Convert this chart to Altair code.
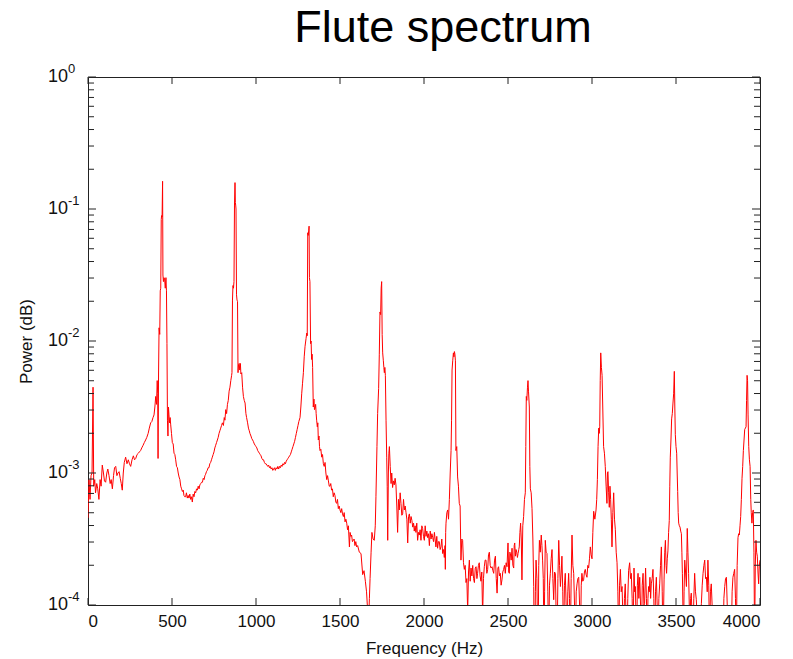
import altair as alt
import pandas as pd

# ---- values (frequency in Hz, log10 of power) ----
seg_0_800 = [(0,-3.34),(6,-3.05),(12,-3.20),(18,-3.02),(24,-3.00),(30,-2.35),(34,-3.10),(40,-3.05),(45,-3.15),(52,-3.08),(58,-3.12),(65,-3.20),(72,-3.05),(78,-3.10),(85,-2.94),(92,-3.00),(98,-3.06),(105,-3.07),(112,-3.00),(118,-2.97),(125,-3.02),(132,-3.08),(138,-3.05),(145,-3.12),(152,-3.02),(158,-2.96),(165,-2.95),(172,-3.02),(178,-3.00),(185,-2.99),(192,-3.04),(198,-3.08),(204,-3.13),(210,-3.00),(216,-2.92),(224,-2.88),(232,-2.93),(240,-2.90),(247,-2.93),(254,-2.95),(262,-2.90),(270,-2.87),(277,-2.90),(284,-2.89),(292,-2.86),(300,-2.85),(306,-2.84),(313,-2.83),(320,-2.81),(328,-2.79),(335,-2.77),(343,-2.75),(350,-2.73),(358,-2.70),(365,-2.66),(373,-2.62),(380,-2.61),(387,-2.58),(393,-2.56),(398,-2.50),(403,-2.42),(408,-2.48),(412,-2.30),(415,-2.40),(417,-2.89),(420,-2.25),(423,-1.90),(427,-1.95),(430,-1.62),(433,-1.60),(436,-1.08),(438,-1.05),(441,-1.06),(444,-0.79),(446,-1.50),(449,-1.55),(452,-1.52),(456,-1.53),(460,-1.60),(464,-1.52),(467,-1.62),(470,-2.02),(473,-2.60),(476,-2.72),(479,-2.50),(482,-2.56),(485,-2.62),(489,-2.58),(492,-2.63),(497,-2.70),(502,-2.77),(507,-2.78),(512,-2.85),(517,-2.86),(522,-2.90),(527,-2.95),(532,-2.96),(537,-3.00),(542,-3.03),(547,-3.05),(552,-3.10),(557,-3.12),(562,-3.14),(567,-3.13),(571,-3.17),(576,-3.18),(581,-3.18),(586,-3.15),(591,-3.19),(596,-3.17),(601,-3.19),(606,-3.16),(611,-3.20),(616,-3.18),(621,-3.22),(626,-3.16),(631,-3.18),(636,-3.14),(641,-3.15),(646,-3.12),(651,-3.13),(656,-3.10),(661,-3.12),(666,-3.09),(671,-3.08),(676,-3.07),(681,-3.07),(686,-3.04),(691,-3.05),(696,-3.02),(700,-3.01),(705,-2.99),(710,-2.98),(715,-2.96),(720,-2.96),(725,-2.93),(730,-2.92),(735,-2.90),(740,-2.88),(745,-2.86),(750,-2.84),(755,-2.81),(760,-2.79),(765,-2.77),(770,-2.75),(775,-2.73),(780,-2.70),(785,-2.68),(790,-2.66),(795,-2.64)]

seg_800_1600 = [(800,-2.62),(806,-2.64),(811,-2.58),(815,-2.60),(820,-2.52),(825,-2.55),(830,-2.48),(835,-2.45),(840,-2.38),(845,-2.35),(850,-2.30),(855,-2.26),(857,-2.24),(860,-1.69),(863,-1.58),(866,-1.60),(869,-1.55),(872,-0.97),(875,-0.80),(877,-0.95),(879,-0.97),(881,-1.00),(884,-1.65),(887,-1.69),(890,-1.70),(893,-2.24),(896,-2.18),(900,-2.17),(903,-2.22),(907,-2.17),(910,-2.25),(915,-2.24),(920,-2.35),(925,-2.42),(930,-2.45),(935,-2.47),(940,-2.55),(944,-2.58),(950,-2.62),(955,-2.66),(960,-2.68),(964,-2.70),(970,-2.72),(975,-2.74),(980,-2.75),(984,-2.76),(990,-2.78),(995,-2.79),(1000,-2.80),(1005,-2.81),(1010,-2.83),(1015,-2.84),(1020,-2.85),(1025,-2.86),(1030,-2.87),(1035,-2.89),(1040,-2.90),(1045,-2.90),(1050,-2.92),(1055,-2.93),(1060,-2.93),(1065,-2.94),(1070,-2.95),(1075,-2.94),(1080,-2.96),(1085,-2.95),(1090,-2.97),(1095,-2.96),(1100,-2.98),(1105,-2.97),(1110,-2.96),(1115,-2.98),(1120,-2.96),(1125,-2.97),(1130,-2.95),(1135,-2.97),(1140,-2.95),(1145,-2.96),(1150,-2.94),(1155,-2.95),(1160,-2.93),(1165,-2.94),(1170,-2.92),(1175,-2.93),(1180,-2.91),(1185,-2.90),(1190,-2.89),(1195,-2.88),(1200,-2.87),(1205,-2.86),(1210,-2.84),(1215,-2.82),(1220,-2.80),(1225,-2.78),(1230,-2.76),(1235,-2.73),(1240,-2.70),(1245,-2.67),(1250,-2.64),(1255,-2.61),(1262,-2.58),(1267,-2.50),(1272,-2.40),(1277,-2.32),(1282,-2.24),(1287,-2.12),(1292,-2.04),(1298,-1.98),(1302,-1.94),(1305,-1.96),(1308,-1.18),(1311,-1.20),(1314,-1.16),(1316,-1.13),(1318,-1.52),(1321,-1.55),(1325,-2.02),(1328,-2.00),(1331,-2.14),(1334,-2.10),(1337,-2.20),(1341,-2.50),(1345,-2.44),(1348,-2.52),(1351,-2.51),(1355,-2.48),(1358,-2.55),(1361,-2.60),(1365,-2.65),(1368,-2.62),(1371,-2.75),(1375,-2.72),(1378,-2.80),(1381,-2.83),(1386,-2.82),(1391,-2.88),(1396,-2.86),(1401,-2.93),(1406,-2.95),(1411,-2.92),(1416,-3.00),(1421,-3.05),(1426,-3.02),(1431,-3.06),(1436,-3.10),(1440,-3.10),(1445,-3.08),(1450,-3.13),(1455,-3.12),(1460,-3.18),(1465,-3.15),(1470,-3.17),(1475,-3.22),(1480,-3.23),(1485,-3.20),(1490,-3.27),(1495,-3.25),(1500,-3.28),(1505,-3.30),(1510,-3.27),(1515,-3.31),(1520,-3.33),(1525,-3.30),(1530,-3.37),(1535,-3.35),(1540,-3.38),(1545,-3.43),(1550,-3.40),(1556,-3.56),(1560,-3.45),(1565,-3.48),(1569,-3.47),(1574,-3.52),(1579,-3.51),(1584,-3.50),(1589,-3.55),(1594,-3.52),(1599,-3.56)]

seg_1600_2400 = [(1605,-3.55),(1615,-3.60),(1625,-3.61),(1635,-3.77),(1643,-3.74),(1651,-3.82),(1658,-3.90),(1665,-4.05),(1671,-4.10),(1675,-3.95),(1679,-3.80),(1685,-3.60),(1690,-3.45),(1697,-3.50),(1704,-3.51),(1710,-3.40),(1714,-3.18),(1720,-2.80),(1724,-2.55),(1730,-2.36),(1734,-2.10),(1738,-1.78),(1742,-1.80),(1745,-1.60),(1748,-1.55),(1751,-1.95),(1754,-2.09),(1758,-2.15),(1761,-2.20),(1764,-2.24),(1767,-2.20),(1770,-2.26),(1774,-2.60),(1778,-2.88),(1781,-3.10),(1784,-3.51),(1788,-3.00),(1791,-2.85),(1794,-2.80),(1799,-2.95),(1804,-3.08),(1808,-3.00),(1813,-3.11),(1818,-3.06),(1823,-3.09),(1828,-3.04),(1833,-3.09),(1838,-3.25),(1843,-3.45),(1848,-3.20),(1853,-3.28),(1858,-3.15),(1863,-3.23),(1868,-3.32),(1873,-3.31),(1878,-3.20),(1883,-3.28),(1888,-3.25),(1893,-3.30),(1898,-3.35),(1903,-3.53),(1908,-3.33),(1913,-3.31),(1918,-3.38),(1923,-3.33),(1928,-3.36),(1933,-3.41),(1938,-3.38),(1942,-3.44),(1947,-3.40),(1952,-3.45),(1957,-3.38),(1962,-3.51),(1967,-3.45),(1972,-3.47),(1977,-3.43),(1982,-3.51),(1987,-3.40),(1992,-3.42),(1997,-3.48),(2002,-3.51),(2007,-3.40),(2012,-3.48),(2017,-3.44),(2022,-3.49),(2027,-3.46),(2032,-3.55),(2037,-3.44),(2042,-3.50),(2047,-3.46),(2052,-3.49),(2057,-3.52),(2062,-3.45),(2066,-3.50),(2071,-3.56),(2076,-3.48),(2081,-3.57),(2086,-3.52),(2091,-3.52),(2096,-3.58),(2101,-3.56),(2106,-3.50),(2111,-3.61),(2116,-3.58),(2121,-3.64),(2125,-3.55),(2127,-3.73),(2129,-3.45),(2131,-3.38),(2136,-3.30),(2141,-3.28),(2146,-3.35),(2151,-3.20),(2156,-3.00),(2161,-2.83),(2164,-2.60),(2167,-2.22),(2171,-2.15),(2175,-2.09),(2178,-2.12),(2181,-2.08),(2184,-2.10),(2187,-2.15),(2190,-2.83),(2195,-2.80),(2200,-3.03),(2205,-3.10),(2210,-3.23),(2215,-3.25),(2220,-3.66),(2225,-3.50),(2230,-3.51),(2235,-3.68),(2240,-3.73),(2245,-3.70),(2250,-3.83),(2255,-3.80),(2260,-4.05),(2265,-3.75),(2270,-3.66),(2275,-3.82),(2280,-3.72),(2285,-3.78),(2290,-3.70),(2295,-3.80),(2300,-3.83),(2305,-3.72),(2310,-3.71),(2315,-3.80),(2319,-3.76),(2324,-3.70),(2329,-3.68),(2334,-3.78),(2339,-3.82),(2344,-3.75),(2349,-4.08),(2354,-3.80),(2359,-3.71),(2364,-3.66),(2369,-3.66),(2374,-3.76),(2379,-3.73),(2384,-3.62),(2389,-3.60),(2394,-3.70),(2399,-3.72)]

seg_2400_3215 = [(2405,-3.71),(2410,-3.74),(2415,-3.76),(2420,-3.66),(2425,-3.63),(2430,-3.80),(2435,-3.91),(2440,-3.72),(2444,-3.71),(2449,-3.78),(2454,-3.76),(2459,-3.85),(2464,-3.81),(2469,-3.75),(2474,-3.73),(2479,-3.70),(2484,-3.76),(2489,-3.68),(2494,-3.71),(2500,-3.53),(2504,-3.75),(2508,-3.76),(2511,-3.60),(2514,-3.61),(2519,-3.66),(2524,-3.57),(2529,-3.70),(2534,-3.72),(2537,-3.55),(2540,-3.53),(2544,-3.63),(2548,-3.58),(2552,-3.60),(2556,-3.64),(2560,-3.61),(2564,-3.58),(2567,-3.56),(2571,-3.45),(2575,-3.38),(2579,-3.50),(2583,-3.81),(2588,-3.40),(2593,-3.33),(2598,-3.20),(2603,-3.15),(2606,-2.80),(2609,-2.42),(2612,-2.45),(2616,-2.35),(2619,-2.30),(2622,-2.38),(2627,-2.50),(2630,-2.95),(2633,-3.12),(2638,-3.15),(2643,-3.27),(2648,-3.50),(2653,-3.86),(2656,-4.30),(2659,-4.40),(2663,-3.90),(2667,-3.66),(2672,-3.80),(2676,-4.20),(2679,-4.40),(2683,-3.70),(2687,-3.51),(2692,-3.60),(2698,-3.47),(2702,-3.55),(2706,-3.66),(2710,-3.80),(2714,-4.30),(2718,-3.90),(2722,-3.51),(2727,-3.60),(2732,-3.61),(2737,-3.90),(2742,-4.30),(2747,-3.85),(2752,-3.76),(2757,-3.65),(2762,-3.58),(2767,-3.80),(2772,-3.96),(2777,-3.75),(2782,-3.76),(2787,-4.10),(2792,-4.30),(2797,-3.80),(2802,-3.51),(2807,-3.70),(2812,-3.86),(2817,-3.75),(2821,-3.63),(2826,-3.90),(2831,-4.30),(2836,-3.85),(2841,-3.76),(2846,-4.00),(2851,-4.30),(2856,-3.90),(2861,-3.76),(2866,-3.95),(2871,-4.30),(2876,-3.80),(2881,-3.47),(2886,-3.70),(2891,-3.76),(2896,-4.00),(2901,-4.30),(2906,-3.90),(2911,-3.84),(2916,-3.80),(2921,-3.79),(2926,-4.00),(2931,-4.30),(2936,-3.85),(2940,-3.76),(2945,-3.82),(2950,-3.81),(2955,-3.75),(2960,-3.73),(2965,-3.77),(2970,-3.79),(2975,-3.70),(2980,-3.72),(2985,-3.65),(2990,-3.56),(2995,-3.62),(3000,-3.65),(3005,-3.45),(3010,-3.29),(3017,-3.35),(3024,-3.28),(3028,-3.20),(3032,-3.05),(3036,-2.80),(3040,-2.66),(3043,-2.70),(3046,-2.65),(3049,-2.30),(3052,-2.09),(3056,-2.20),(3060,-2.26),(3064,-2.50),(3069,-2.80),(3074,-2.85),(3079,-2.95),(3084,-3.10),(3089,-3.23),(3092,-3.00),(3095,-2.99),(3099,-3.15),(3103,-3.26),(3107,-3.10),(3111,-3.20),(3115,-3.35),(3119,-3.56),(3124,-3.30),(3129,-3.15),(3134,-3.35),(3139,-3.43),(3144,-3.60),(3149,-3.68),(3154,-3.90),(3159,-4.30),(3164,-3.85),(3169,-3.73),(3174,-3.90),(3179,-3.86),(3184,-4.10),(3188,-4.30),(3193,-3.95),(3198,-3.84),(3203,-4.10),(3208,-4.30),(3213,-3.95)]

seg_3215_4000 = [(3218,-3.74),(3224,-3.68),(3229,-3.80),(3234,-3.76),(3239,-3.95),(3244,-4.30),(3250,-3.72),(3254,-3.90),(3258,-3.86),(3262,-4.10),(3266,-4.30),(3270,-3.85),(3274,-3.76),(3279,-3.95),(3284,-3.79),(3289,-4.00),(3294,-4.30),(3299,-3.85),(3304,-3.76),(3309,-4.00),(3313,-3.99),(3319,-3.72),(3324,-3.95),(3329,-4.30),(3333,-3.95),(3337,-3.86),(3341,-3.90),(3345,-3.79),(3349,-3.95),(3353,-3.84),(3358,-3.80),(3363,-3.73),(3368,-3.95),(3373,-4.30),(3378,-3.90),(3383,-3.79),(3388,-4.00),(3393,-4.30),(3398,-3.95),(3403,-3.84),(3408,-3.70),(3413,-3.56),(3418,-3.90),(3423,-4.30),(3429,-3.81),(3433,-3.60),(3437,-3.51),(3441,-3.70),(3444,-3.76),(3448,-3.65),(3452,-3.59),(3456,-3.45),(3460,-3.36),(3463,-3.10),(3466,-2.88),(3470,-2.75),(3474,-2.59),(3478,-2.55),(3482,-2.47),(3486,-2.40),(3490,-2.23),(3493,-2.50),(3496,-2.71),(3500,-2.80),(3504,-2.85),(3507,-3.00),(3510,-3.14),(3513,-3.30),(3516,-3.38),(3520,-3.40),(3524,-3.41),(3528,-3.44),(3532,-3.46),(3535,-3.60),(3538,-3.76),(3541,-4.00),(3544,-4.30),(3548,-3.90),(3552,-3.66),(3557,-3.75),(3562,-3.86),(3565,-3.60),(3567,-3.42),(3571,-3.60),(3575,-3.76),(3579,-4.00),(3583,-4.30),(3587,-3.95),(3591,-3.91),(3596,-4.10),(3601,-4.30),(3606,-3.95),(3611,-3.76),(3616,-3.90),(3621,-3.96),(3626,-4.10),(3631,-4.30),(3636,-4.30),(3641,-4.30),(3646,-4.10),(3651,-3.99),(3656,-3.85),(3661,-3.76),(3666,-3.70),(3671,-3.66),(3676,-3.80),(3681,-3.79),(3686,-3.90),(3690,-3.66),(3695,-3.85),(3700,-4.30),(3705,-3.90),(3710,-3.84),(3715,-4.00),(3720,-4.30),(3725,-4.40),(3730,-4.50),(3740,-4.60),(3750,-4.50),(3760,-4.40),(3770,-4.35),(3780,-4.30),(3785,-3.95),(3790,-3.86),(3795,-3.80),(3800,-3.79),(3805,-4.00),(3810,-4.30),(3815,-4.30),(3820,-4.20),(3825,-4.10),(3829,-4.30),(3834,-3.90),(3839,-3.79),(3844,-3.76),(3849,-3.73),(3854,-3.95),(3859,-4.30),(3864,-3.70),(3869,-3.49),(3873,-3.46),(3877,-3.47),(3881,-3.40),(3885,-3.33),(3889,-3.20),(3893,-3.04),(3897,-2.95),(3901,-2.83),(3905,-2.75),(3909,-2.67),(3913,-2.66),(3917,-2.65),(3920,-2.45),(3923,-2.26),(3926,-2.30),(3929,-2.56),(3933,-2.80),(3937,-2.90),(3941,-2.95),(3945,-3.20),(3948,-3.30),(3952,-3.38),(3956,-3.30),(3960,-3.28),(3964,-3.60),(3968,-4.30),(3972,-3.70),(3976,-3.51),(3980,-3.60),(3984,-3.63),(3988,-3.75),(3992,-3.84),(3996,-3.70),(4000,-3.66)]

x_tick_values = [0, 500, 1000, 1500, 2000, 2500, 3000, 3500, 4000]
y_major_values = [1e-4, 1e-3, 1e-2, 1e-1, 1.0]
y_label_base = ["10", "10", "10", "10", "10"]
y_label_exp = ["-4", "-3", "-2", "-1", "0"]
y_minor_values = [2e-4, 3e-4, 4e-4, 5e-4, 6e-4, 7e-4, 8e-4, 9e-4,
                  2e-3, 3e-3, 4e-3, 5e-3, 6e-3, 7e-3, 8e-3, 9e-3,
                  2e-2, 3e-2, 4e-2, 5e-2, 6e-2, 7e-2, 8e-2, 9e-2,
                  2e-1, 3e-1, 4e-1, 5e-1, 6e-1, 7e-1, 8e-1, 9e-1]

points = seg_0_800 + seg_800_1600 + seg_1600_2400 + seg_2400_3215 + seg_3215_4000
df = pd.DataFrame({"freq": [p[0] for p in points],
                   "power": [10 ** p[1] for p in points]})

FONT = "Liberation Sans"
AX = "#222222"
TXT = "#111111"
W, H = 672, 528

xs = alt.Scale(domain=[0, 4000], nice=False, zero=False)
ys = alt.Scale(type="log", domain=[1e-4, 1], nice=False)

x_axis = alt.Axis(title="Frequency (Hz)", values=x_tick_values, format="d", ticks=False,
                  domain=False, grid=False, labelFont=FONT, labelFontSize=17,
                  labelColor=TXT, labelPadding=8, titleFont=FONT,
                  titleFontSize=17, titleFontWeight="normal",
                  titleColor=TXT, titlePadding=11)
y_axis = alt.Axis(title="Power (dB)", labels=False, ticks=False, domain=False,
                  grid=False, titleFont=FONT, titleFontSize=17,
                  titleFontWeight="normal", titleColor=TXT, titlePadding=53)

line = alt.Chart(df).mark_line(color="#ff0000", strokeWidth=1, clip=True).encode(
    x=alt.X("freq:Q", scale=xs, axis=x_axis),
    y=alt.Y("power:Q", scale=ys, axis=y_axis),
)

xt = pd.DataFrame({"x": x_tick_values})
x_bottom = alt.Chart(xt).mark_rule(color=AX, strokeWidth=1).encode(
    x=alt.X("x:Q", scale=xs, axis=x_axis), y=alt.value(H), y2=alt.value(H - 7))
x_top = alt.Chart(xt).mark_rule(color=AX, strokeWidth=1).encode(
    x=alt.X("x:Q", scale=xs, axis=x_axis), y=alt.value(0), y2=alt.value(7))

ymaj = pd.DataFrame({"v": y_major_values, "base": y_label_base, "exp": y_label_exp})
ymin = pd.DataFrame({"v": y_minor_values})

def yrule(data, x1, x2):
    return alt.Chart(data).mark_rule(color=AX, strokeWidth=1).encode(
        y=alt.Y("v:Q", scale=ys, axis=y_axis), x=alt.value(x1), x2=alt.value(x2))

y_left_major = yrule(ymaj, 0, 8)
y_right_major = yrule(ymaj, W, W - 8)
y_left_minor = yrule(ymin, 0, 6)
y_right_minor = yrule(ymin, W, W - 6)

ylab_base = alt.Chart(ymaj).mark_text(align="left", baseline="middle", font=FONT,
                                      fontSize=18, color=TXT).encode(
    y=alt.Y("v:Q", scale=ys, axis=y_axis), x=alt.value(-40), text="base:N")
ylab_exp = alt.Chart(ymaj).mark_text(align="left", baseline="middle", font=FONT,
                                     fontSize=13, color=TXT, dy=-8).encode(
    y=alt.Y("v:Q", scale=ys, axis=y_axis), x=alt.value(-20), text="exp:N")

chart = alt.layer(
    line, x_bottom, x_top, y_left_major, y_right_major, y_left_minor, y_right_minor,
    ylab_base, ylab_exp
).properties(
    width=W, height=H,
    title=alt.Title("Flute spectrum", font=FONT, fontSize=45, fontWeight="normal",
                    color="#000000", anchor="middle", dx=19, offset=-24,
                    baseline="alphabetic", frame="group"),
    padding={"left": 88, "top": 77, "right": 33, "bottom": 54},
    autosize=alt.AutoSizeParams(type="none"),
    background="white",
).configure_view(stroke=AX, strokeWidth=1)

chart.save("out.html", embed_options={"renderer": "svg", "actions": False})
